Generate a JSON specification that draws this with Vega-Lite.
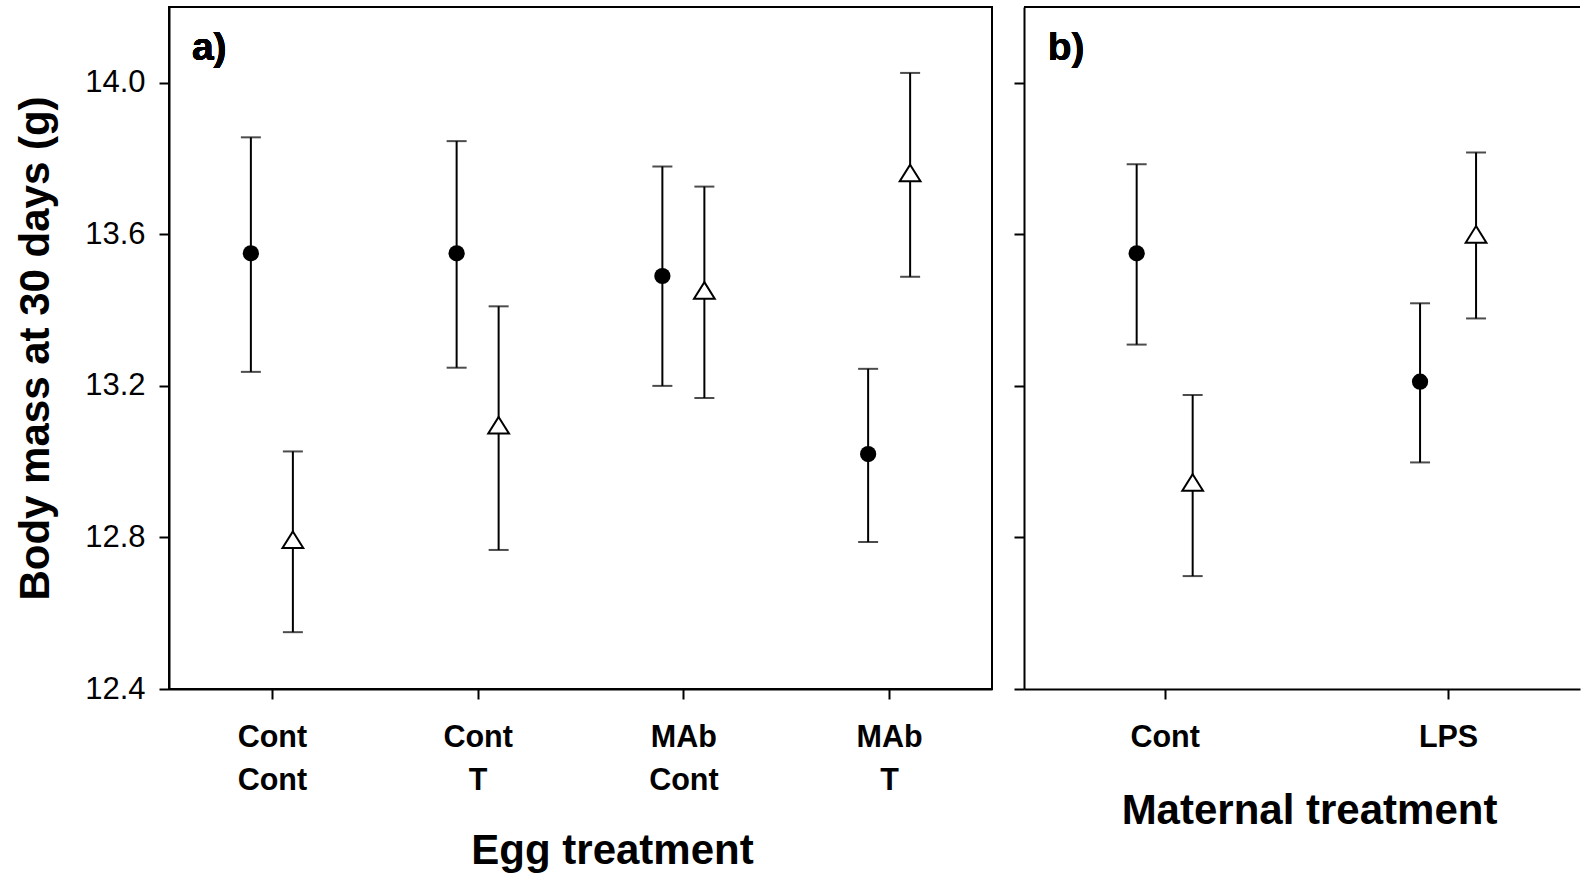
{
  "$schema": "https://vega.github.io/schema/vega-lite/v6.json",
  "background": "white",
  "padding": {"left": 13, "top": 6, "right": 0, "bottom": 0},
  "spacing": 20,
  "config": {
    "font": "Liberation Sans",
    "view": {"stroke": "black", "strokeWidth": 2},
    "axis": {
      "domainColor": "black", "domainWidth": 2,
      "tickColor": "black", "tickWidth": 2, "tickSize": 10,
      "labelColor": "black", "titleColor": "black", "grid": false,
      "labelFont": "Liberation Sans", "titleFont": "Liberation Sans"
    },
    "axisY": {"labelFontSize": 31, "labelPadding": 14, "titleFontSize": 42, "titleFontWeight": "bold", "titlePadding": 27},
    "axisX": {"labelFontSize": 30.5, "labelFontWeight": "bold", "labelAngle": 0, "labelPadding": 23, "labelLineHeight": 43, "titleFontSize": 42, "titleFontWeight": "bold", "titlePadding": 35}
  },
  "datasets": {
    "pts": [
      {"panel": "a", "treatment": "Cont Cont", "series": "closed", "mean": 13.55, "lo": 13.237, "hi": 13.856},
      {"panel": "a", "treatment": "Cont Cont", "series": "open", "mean": 12.794, "lo": 12.55, "hi": 13.027},
      {"panel": "a", "treatment": "Cont T", "series": "closed", "mean": 13.55, "lo": 13.248, "hi": 13.846},
      {"panel": "a", "treatment": "Cont T", "series": "open", "mean": 13.096, "lo": 12.767, "hi": 13.41},
      {"panel": "a", "treatment": "MAb Cont", "series": "closed", "mean": 13.49, "lo": 13.2, "hi": 13.779},
      {"panel": "a", "treatment": "MAb Cont", "series": "open", "mean": 13.452, "lo": 13.168, "hi": 13.726},
      {"panel": "a", "treatment": "MAb T", "series": "closed", "mean": 13.02, "lo": 12.788, "hi": 13.245},
      {"panel": "a", "treatment": "MAb T", "series": "open", "mean": 13.762, "lo": 13.488, "hi": 14.026},
      {"panel": "b", "treatment": "Cont", "series": "closed", "mean": 13.55, "lo": 13.309, "hi": 13.785},
      {"panel": "b", "treatment": "Cont", "series": "open", "mean": 12.945, "lo": 12.698, "hi": 13.176},
      {"panel": "b", "treatment": "LPS", "series": "closed", "mean": 13.211, "lo": 12.998, "hi": 13.418},
      {"panel": "b", "treatment": "LPS", "series": "open", "mean": 13.6, "lo": 13.378, "hi": 13.816}
    ]
  },
  "hconcat": [
    {
      "width": 823,
      "height": 682,
      "data": {"name": "pts"},
      "transform": [{"filter": "datum.panel == 'a'"}],
      "encoding": {
        "x": {"field": "treatment", "type": "nominal", "sort": ["Cont Cont", "Cont T", "MAb Cont", "MAb T"],
              "scale": {"type": "point", "padding": 0.5},
              "axis": {"title": "Egg treatment", "titleX": 443, "labelExpr": "split(datum.label, ' ')"}}
      },
      "layer": [
        {"mark": {"type": "text", "text": "a)", "align": "left", "baseline": "alphabetic", "fontSize": 39, "fontWeight": "bold", "color": "black", "font": "Liberation Sans", "dx": -80, "dy": 53},
         "encoding": {"x": {"datum": "Cont Cont", "type": "nominal"},
                      "y": {"datum": 14.2, "type": "quantitative", "scale": {"domain": [12.4, 14.2], "nice": false, "zero": false}, "axis": {"title": "Body mass at 30 days (g)", "values": [12.4, 12.8, 13.2, 13.6, 14.0], "format": ".1f"}}}},
        {
          "transform": [{"filter": "datum.series == 'closed'"}],
          "layer": [
            {"mark": {"type": "rule", "xOffset": -21, "strokeWidth": 2, "color": "black"},
             "encoding": {"y": {"field": "lo", "type": "quantitative", "scale": {"domain": [12.4, 14.2], "nice": false, "zero": false}, "axis": {"title": "Body mass at 30 days (g)", "values": [12.4, 12.8, 13.2, 13.6, 14.0], "format": ".1f"}}, "y2": {"field": "hi"}}},
            {"mark": {"type": "tick", "orient": "horizontal", "xOffset": -21, "size": 20, "thickness": 2, "color": "black"},
             "encoding": {"y": {"field": "lo", "type": "quantitative", "scale": {"domain": [12.4, 14.2], "nice": false, "zero": false}, "axis": {"title": "Body mass at 30 days (g)", "values": [12.4, 12.8, 13.2, 13.6, 14.0], "format": ".1f"}}}},
            {"mark": {"type": "tick", "orient": "horizontal", "xOffset": -21, "size": 20, "thickness": 2, "color": "black"},
             "encoding": {"y": {"field": "hi", "type": "quantitative", "scale": {"domain": [12.4, 14.2], "nice": false, "zero": false}, "axis": {"title": "Body mass at 30 days (g)", "values": [12.4, 12.8, 13.2, 13.6, 14.0], "format": ".1f"}}}},
            {"mark": {"type": "point", "shape": "circle", "xOffset": -21, "size": 263, "filled": true, "fill": "black", "strokeWidth": 0, "opacity": 1},
             "encoding": {"y": {"field": "mean", "type": "quantitative", "scale": {"domain": [12.4, 14.2], "nice": false, "zero": false}, "axis": {"title": "Body mass at 30 days (g)", "values": [12.4, 12.8, 13.2, 13.6, 14.0], "format": ".1f"}}}}
          ]
        },
        {
          "transform": [{"filter": "datum.series == 'open'"}],
          "layer": [
            {"mark": {"type": "rule", "xOffset": 21, "strokeWidth": 2, "color": "black"},
             "encoding": {"y": {"field": "lo", "type": "quantitative", "scale": {"domain": [12.4, 14.2], "nice": false, "zero": false}, "axis": {"title": "Body mass at 30 days (g)", "values": [12.4, 12.8, 13.2, 13.6, 14.0], "format": ".1f"}}, "y2": {"field": "hi"}}},
            {"mark": {"type": "tick", "orient": "horizontal", "xOffset": 21, "size": 20, "thickness": 2, "color": "black"},
             "encoding": {"y": {"field": "lo", "type": "quantitative", "scale": {"domain": [12.4, 14.2], "nice": false, "zero": false}, "axis": {"title": "Body mass at 30 days (g)", "values": [12.4, 12.8, 13.2, 13.6, 14.0], "format": ".1f"}}}},
            {"mark": {"type": "tick", "orient": "horizontal", "xOffset": 21, "size": 20, "thickness": 2, "color": "black"},
             "encoding": {"y": {"field": "hi", "type": "quantitative", "scale": {"domain": [12.4, 14.2], "nice": false, "zero": false}, "axis": {"title": "Body mass at 30 days (g)", "values": [12.4, 12.8, 13.2, 13.6, 14.0], "format": ".1f"}}}},
            {"mark": {"type": "point", "shape": "M0,-0.8L1,0.8L-1,0.8Z", "xOffset": 21, "size": 430, "filled": true, "fill": "white", "stroke": "black", "strokeWidth": 2, "opacity": 1},
             "encoding": {"y": {"field": "mean", "type": "quantitative", "scale": {"domain": [12.4, 14.2], "nice": false, "zero": false}, "axis": {"title": "Body mass at 30 days (g)", "values": [12.4, 12.8, 13.2, 13.6, 14.0], "format": ".1f"}}}}
          ]
        }
      ]
    },
    {
      "width": 556,
      "height": 682,
      "view": {"stroke": null},
      "data": {"name": "pts"},
      "transform": [{"filter": "datum.panel == 'b'"}],
      "layer": [
        {"mark": {"type": "rule", "strokeWidth": 2, "color": "black"},
         "encoding": {"y": {"datum": 14.2, "type": "quantitative", "scale": {"domain": [12.4, 14.2], "nice": false, "zero": false}, "axis": {"title": null, "labels": false, "values": [12.4, 12.8, 13.2, 13.6, 14.0]}}}},
        {
          "encoding": {
            "x": {"field": "treatment", "type": "nominal", "sort": ["Cont", "LPS"],
                  "scale": {"type": "point", "padding": 0.481, "align": 0.516},
                  "axis": {"title": "Maternal treatment", "titleX": 285, "titlePadding": 38}}
          },
          "layer": [
            {"mark": {"type": "text", "text": "b)", "align": "left", "baseline": "alphabetic", "fontSize": 39, "fontWeight": "bold", "color": "black", "font": "Liberation Sans", "dx": -117, "dy": 53},
             "encoding": {"x": {"datum": "Cont", "type": "nominal"},
                          "y": {"datum": 14.2, "type": "quantitative", "scale": {"domain": [12.4, 14.2], "nice": false, "zero": false}, "axis": {"title": null, "labels": false, "values": [12.4, 12.8, 13.2, 13.6, 14.0]}}}},
            {
              "transform": [{"filter": "datum.series == 'closed'"}],
              "layer": [
                {"mark": {"type": "rule", "xOffset": -28, "strokeWidth": 2, "color": "black"},
                 "encoding": {"y": {"field": "lo", "type": "quantitative", "scale": {"domain": [12.4, 14.2], "nice": false, "zero": false}, "axis": {"title": null, "labels": false, "values": [12.4, 12.8, 13.2, 13.6, 14.0]}}, "y2": {"field": "hi"}}},
                {"mark": {"type": "tick", "orient": "horizontal", "xOffset": -28, "size": 20, "thickness": 2, "color": "black"},
                 "encoding": {"y": {"field": "lo", "type": "quantitative", "scale": {"domain": [12.4, 14.2], "nice": false, "zero": false}, "axis": {"title": null, "labels": false, "values": [12.4, 12.8, 13.2, 13.6, 14.0]}}}},
                {"mark": {"type": "tick", "orient": "horizontal", "xOffset": -28, "size": 20, "thickness": 2, "color": "black"},
                 "encoding": {"y": {"field": "hi", "type": "quantitative", "scale": {"domain": [12.4, 14.2], "nice": false, "zero": false}, "axis": {"title": null, "labels": false, "values": [12.4, 12.8, 13.2, 13.6, 14.0]}}}},
                {"mark": {"type": "point", "shape": "circle", "xOffset": -28, "size": 263, "filled": true, "fill": "black", "strokeWidth": 0, "opacity": 1},
                 "encoding": {"y": {"field": "mean", "type": "quantitative", "scale": {"domain": [12.4, 14.2], "nice": false, "zero": false}, "axis": {"title": null, "labels": false, "values": [12.4, 12.8, 13.2, 13.6, 14.0]}}}}
              ]
            },
            {
              "transform": [{"filter": "datum.series == 'open'"}],
              "layer": [
                {"mark": {"type": "rule", "xOffset": 28, "strokeWidth": 2, "color": "black"},
                 "encoding": {"y": {"field": "lo", "type": "quantitative", "scale": {"domain": [12.4, 14.2], "nice": false, "zero": false}, "axis": {"title": null, "labels": false, "values": [12.4, 12.8, 13.2, 13.6, 14.0]}}, "y2": {"field": "hi"}}},
                {"mark": {"type": "tick", "orient": "horizontal", "xOffset": 28, "size": 20, "thickness": 2, "color": "black"},
                 "encoding": {"y": {"field": "lo", "type": "quantitative", "scale": {"domain": [12.4, 14.2], "nice": false, "zero": false}, "axis": {"title": null, "labels": false, "values": [12.4, 12.8, 13.2, 13.6, 14.0]}}}},
                {"mark": {"type": "tick", "orient": "horizontal", "xOffset": 28, "size": 20, "thickness": 2, "color": "black"},
                 "encoding": {"y": {"field": "hi", "type": "quantitative", "scale": {"domain": [12.4, 14.2], "nice": false, "zero": false}, "axis": {"title": null, "labels": false, "values": [12.4, 12.8, 13.2, 13.6, 14.0]}}}},
                {"mark": {"type": "point", "shape": "M0,-0.8L1,0.8L-1,0.8Z", "xOffset": 28, "size": 430, "filled": true, "fill": "white", "stroke": "black", "strokeWidth": 2, "opacity": 1},
                 "encoding": {"y": {"field": "mean", "type": "quantitative", "scale": {"domain": [12.4, 14.2], "nice": false, "zero": false}, "axis": {"title": null, "labels": false, "values": [12.4, 12.8, 13.2, 13.6, 14.0]}}}}
              ]
            }
          ]
        }
      ]
    }
  ]
}
